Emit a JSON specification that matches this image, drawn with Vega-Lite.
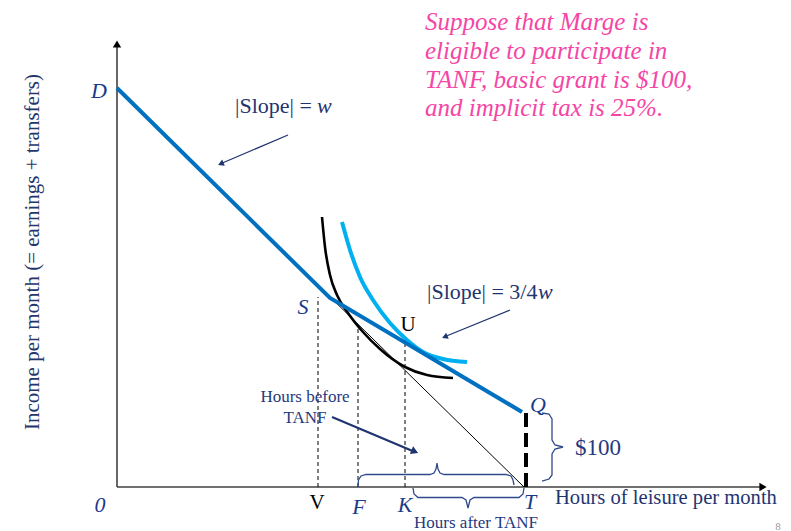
{
  "$schema": "https://vega.github.io/schema/vega-lite/v6.json",
  "width": 791,
  "height": 531,
  "padding": 0,
  "autosize": {"type": "none"},
  "background": "white",
  "config": {"view": {"stroke": null}},
  "datasets": {
    "paths": [
      {"id": "yaxis", "i": 0, "x": 0, "y": 0}, {"id": "yaxis", "i": 1, "x": 0, "y": 441},
      {"id": "xaxis", "i": 0, "x": 0, "y": 0}, {"id": "xaxis", "i": 1, "x": 645, "y": 0},
      {"id": "thin", "i": 0, "x": 0, "y": 399}, {"id": "thin", "i": 1, "x": 407, "y": 0},
      {"id": "blue", "i": 0, "x": 0, "y": 399}, {"id": "blue", "i": 1, "x": 213, "y": 189}, {"id": "blue", "i": 2, "x": 405, "y": 75},
      {"id": "ic1", "i": 0, "x": 205, "y": 270}, {"id": "ic1", "i": 1, "x": 208, "y": 240}, {"id": "ic1", "i": 2, "x": 213, "y": 212},
      {"id": "ic1", "i": 3, "x": 220, "y": 192}, {"id": "ic1", "i": 4, "x": 231, "y": 174}, {"id": "ic1", "i": 5, "x": 246, "y": 155},
      {"id": "ic1", "i": 6, "x": 263, "y": 138}, {"id": "ic1", "i": 7, "x": 288, "y": 120}, {"id": "ic1", "i": 8, "x": 310, "y": 112},
      {"id": "ic1", "i": 9, "x": 336, "y": 109},
      {"id": "ic2", "i": 0, "x": 225, "y": 265}, {"id": "ic2", "i": 1, "x": 233, "y": 237}, {"id": "ic2", "i": 2, "x": 243, "y": 210},
      {"id": "ic2", "i": 3, "x": 256, "y": 187}, {"id": "ic2", "i": 4, "x": 273, "y": 164}, {"id": "ic2", "i": 5, "x": 290, "y": 147},
      {"id": "ic2", "i": 6, "x": 306, "y": 135}, {"id": "ic2", "i": 7, "x": 326, "y": 128}, {"id": "ic2", "i": 8, "x": 350, "y": 125},
      {"id": "braceTop", "i": 0, "x": 241, "y": 0}, {"id": "braceTop", "i": 1, "x": 241.5, "y": 7}, {"id": "braceTop", "i": 2, "x": 244, "y": 11},
      {"id": "braceTop", "i": 3, "x": 249, "y": 12.5}, {"id": "braceTop", "i": 4, "x": 313, "y": 12.5}, {"id": "braceTop", "i": 5, "x": 317, "y": 14},
      {"id": "braceTop", "i": 6, "x": 319, "y": 18}, {"id": "braceTop", "i": 7, "x": 320, "y": 24}, {"id": "braceTop", "i": 8, "x": 321, "y": 18},
      {"id": "braceTop", "i": 9, "x": 323, "y": 14}, {"id": "braceTop", "i": 10, "x": 327, "y": 12.5}, {"id": "braceTop", "i": 11, "x": 389, "y": 12.5},
      {"id": "braceTop", "i": 12, "x": 394, "y": 11}, {"id": "braceTop", "i": 13, "x": 396, "y": 7}, {"id": "braceTop", "i": 14, "x": 397, "y": 2},
      {"id": "braceBot", "i": 0, "x": 296, "y": -1}, {"id": "braceBot", "i": 1, "x": 297, "y": -7}, {"id": "braceBot", "i": 2, "x": 301, "y": -10.5},
      {"id": "braceBot", "i": 3, "x": 345, "y": -10.5}, {"id": "braceBot", "i": 4, "x": 349, "y": -13}, {"id": "braceBot", "i": 5, "x": 351, "y": -21},
      {"id": "braceBot", "i": 6, "x": 353, "y": -13}, {"id": "braceBot", "i": 7, "x": 357, "y": -10.5}, {"id": "braceBot", "i": 8, "x": 402, "y": -10.5},
      {"id": "braceBot", "i": 9, "x": 406, "y": -7}, {"id": "braceBot", "i": 10, "x": 407, "y": -1},
      {"id": "braceR", "i": 0, "x": 425, "y": 74}, {"id": "braceR", "i": 1, "x": 432, "y": 73}, {"id": "braceR", "i": 2, "x": 435, "y": 68},
      {"id": "braceR", "i": 3, "x": 435, "y": 47}, {"id": "braceR", "i": 4, "x": 438, "y": 42}, {"id": "braceR", "i": 5, "x": 446, "y": 40},
      {"id": "braceR", "i": 6, "x": 438, "y": 38}, {"id": "braceR", "i": 7, "x": 435, "y": 33}, {"id": "braceR", "i": 8, "x": 435, "y": 12},
      {"id": "braceR", "i": 9, "x": 432, "y": 8}, {"id": "braceR", "i": 10, "x": 425, "y": 6}
    ],
    "segs": [
      {"group": "vdash", "x": 201, "y": 0, "x2": 201, "y2": 190},
      {"group": "vdash", "x": 241, "y": 0, "x2": 241, "y2": 160},
      {"group": "vdash", "x": 288, "y": 0, "x2": 288, "y2": 144},
      {"group": "grant", "x": 409, "y": 0, "x2": 409, "y2": 74},
      {"group": "slopeArrow", "x": 171, "y": 352, "x2": 103, "y2": 323},
      {"group": "slopeArrow", "x": 393, "y": 177, "x2": 327, "y2": 150},
      {"group": "hoursArrow", "x": 215, "y": 70, "x2": 298, "y2": 35}
    ],
    "heads": [
      {"group": "axisY", "x": 0, "y": 443},
      {"group": "axisX", "x": 646, "y": 0},
      {"group": "slope", "x": 103.8, "y": 323.2},
      {"group": "slope", "x": 327.8, "y": 150.1},
      {"group": "hours", "x": 297.8, "y": 35.4}
    ],
    "labels": [
      {"group": "italic", "text": "D", "x": -18, "y": 396},
      {"group": "italic", "text": "S", "x": 186, "y": 180},
      {"group": "italic", "text": "F", "x": 242, "y": -20},
      {"group": "italic", "text": "K", "x": 288, "y": -18},
      {"group": "italic", "text": "T", "x": 413, "y": -15},
      {"group": "italic", "text": "Q", "x": 421, "y": 82},
      {"group": "italic", "text": "0", "x": -17, "y": -18},
      {"group": "black", "text": "V", "x": 200, "y": -16},
      {"group": "black", "text": "U", "x": 291, "y": 162},
      {"group": "slopeText", "text": "|Slope| =", "x": 118, "y": 381},
      {"group": "slopeText", "text": "|Slope| = 3/4", "x": 310, "y": 195},
      {"group": "slopeW", "text": "w", "x": 200, "y": 381},
      {"group": "slopeW", "text": "w", "x": 421, "y": 195},
      {"group": "grantText", "text": "$100", "x": 481, "y": 39},
      {"group": "small", "text": "Hours before", "x": 188, "y": 90},
      {"group": "small", "text": "TANF", "x": 188, "y": 69},
      {"group": "small", "text": "Hours after TANF", "x": 359, "y": -35.5},
      {"group": "xtitle", "text": "Hours of leisure per month", "x": 438, "y": -11},
      {"group": "ytitle", "text": "Income per month (= earnings + transfers)", "x": -84, "y": 235},
      {"group": "pink", "text": "Suppose that Marge is", "x": 308, "y": 465},
      {"group": "pink", "text": "eligible to participate in", "x": 308, "y": 436},
      {"group": "pink", "text": "TANF, basic grant is $100,", "x": 308, "y": 407},
      {"group": "pink", "text": "and implicit tax is 25%.", "x": 308, "y": 379},
      {"group": "page", "text": "8", "x": 661, "y": -40}
    ]
  },
  "encoding": {
    "x": {"field": "x", "type": "quantitative", "scale": {"domain": [-117, 674], "nice": false, "zero": false}, "axis": null},
    "y": {"field": "y", "type": "quantitative", "scale": {"domain": [-44, 487], "nice": false, "zero": false}, "axis": null}
  },
  "layer": [
    {"data": {"name": "paths"}, "transform": [{"filter": "datum.id == 'yaxis' || datum.id == 'xaxis'"}],
     "mark": {"type": "line", "color": "#404040", "strokeWidth": 1.6},
     "encoding": {"detail": {"field": "id"}, "order": {"field": "i", "type": "quantitative"}}},
    {"data": {"name": "paths"}, "transform": [{"filter": "datum.id == 'thin'"}],
     "mark": {"type": "line", "color": "#000000", "strokeWidth": 1},
     "encoding": {"order": {"field": "i", "type": "quantitative"}}},
    {"data": {"name": "segs"}, "transform": [{"filter": "datum.group == 'vdash'"}],
     "mark": {"type": "rule", "color": "#000000", "strokeWidth": 1, "strokeDash": [4, 3]},
     "encoding": {"x2": {"field": "x2"}, "y2": {"field": "y2"}}},
    {"data": {"name": "paths"}, "transform": [{"filter": "datum.id == 'ic1'"}],
     "mark": {"type": "line", "color": "#000000", "strokeWidth": 2.6, "interpolate": "monotone"},
     "encoding": {"order": {"field": "i", "type": "quantitative"}}},
    {"data": {"name": "paths"}, "transform": [{"filter": "datum.id == 'ic2'"}],
     "mark": {"type": "line", "color": "#00b0f0", "strokeWidth": 4, "interpolate": "monotone"},
     "encoding": {"order": {"field": "i", "type": "quantitative"}}},
    {"data": {"name": "paths"}, "transform": [{"filter": "datum.id == 'blue'"}],
     "mark": {"type": "line", "color": "#0070c0", "strokeWidth": 4, "strokeJoin": "miter"},
     "encoding": {"order": {"field": "i", "type": "quantitative"}}},
    {"data": {"name": "segs"}, "transform": [{"filter": "datum.group == 'grant'"}],
     "mark": {"type": "rule", "color": "#000000", "strokeWidth": 4, "strokeDash": [14, 6]},
     "encoding": {"x2": {"field": "x2"}, "y2": {"field": "y2"}}},
    {"data": {"name": "paths"}, "transform": [{"filter": "datum.id == 'braceTop' || datum.id == 'braceBot' || datum.id == 'braceR'"}],
     "mark": {"type": "line", "color": "#2f4a8a", "strokeWidth": 1.3},
     "encoding": {"detail": {"field": "id"}, "order": {"field": "i", "type": "quantitative"}}},
    {"data": {"name": "segs"}, "transform": [{"filter": "datum.group == 'slopeArrow'"}],
     "mark": {"type": "rule", "color": "#1f3570", "strokeWidth": 1.2},
     "encoding": {"x2": {"field": "x2"}, "y2": {"field": "y2"}}},
    {"data": {"name": "segs"}, "transform": [{"filter": "datum.group == 'hoursArrow'"}],
     "mark": {"type": "rule", "color": "#1f3570", "strokeWidth": 2.2},
     "encoding": {"x2": {"field": "x2"}, "y2": {"field": "y2"}}},
    {"data": {"name": "heads"}, "transform": [{"filter": "datum.group == 'axisY'"}],
     "mark": {"type": "point", "shape": "triangle-up", "filled": true, "color": "#000000", "size": 70, "opacity": 1}},
    {"data": {"name": "heads"}, "transform": [{"filter": "datum.group == 'axisX'"}],
     "mark": {"type": "point", "shape": "triangle-right", "filled": true, "color": "#000000", "size": 70, "opacity": 1}},
    {"data": {"name": "heads"}, "transform": [{"filter": "datum.group == 'slope'"}],
     "mark": {"type": "point", "shape": "triangle-up", "filled": true, "color": "#1f3570", "size": 45, "opacity": 1, "angle": 247}},
    {"data": {"name": "heads"}, "transform": [{"filter": "datum.group == 'hours'"}],
     "mark": {"type": "point", "shape": "triangle-up", "filled": true, "color": "#1f3570", "size": 70, "opacity": 1, "angle": 113}},
    {"data": {"name": "labels"}, "transform": [{"filter": "datum.group == 'italic'"}],
     "mark": {"type": "text", "font": "Liberation Serif", "fontStyle": "italic", "fontSize": 22, "color": "#1a3a8c", "align": "center", "baseline": "middle"},
     "encoding": {"text": {"field": "text"}}},
    {"data": {"name": "labels"}, "transform": [{"filter": "datum.group == 'black'"}],
     "mark": {"type": "text", "font": "Liberation Serif", "fontSize": 21, "color": "#000000", "align": "center", "baseline": "middle"},
     "encoding": {"text": {"field": "text"}}},
    {"data": {"name": "labels"}, "transform": [{"filter": "datum.group == 'slopeText'"}],
     "mark": {"type": "text", "font": "Liberation Serif", "fontSize": 22, "color": "#1f3570", "align": "left", "baseline": "middle"},
     "encoding": {"text": {"field": "text"}}},
    {"data": {"name": "labels"}, "transform": [{"filter": "datum.group == 'slopeW'"}],
     "mark": {"type": "text", "font": "Liberation Serif", "fontStyle": "italic", "fontSize": 22, "color": "#1f3570", "align": "left", "baseline": "middle"},
     "encoding": {"text": {"field": "text"}}},
    {"data": {"name": "labels"}, "transform": [{"filter": "datum.group == 'grantText'"}],
     "mark": {"type": "text", "font": "Liberation Serif", "fontSize": 23, "color": "#1f3a80", "align": "center", "baseline": "middle"},
     "encoding": {"text": {"field": "text"}}},
    {"data": {"name": "labels"}, "transform": [{"filter": "datum.group == 'small'"}],
     "mark": {"type": "text", "font": "Liberation Serif", "fontSize": 17, "color": "#1f3a80", "align": "center", "baseline": "middle"},
     "encoding": {"text": {"field": "text"}}},
    {"data": {"name": "labels"}, "transform": [{"filter": "datum.group == 'xtitle'"}],
     "mark": {"type": "text", "font": "Liberation Serif", "fontSize": 20.6, "color": "#1f3570", "align": "left", "baseline": "middle"},
     "encoding": {"text": {"field": "text"}}},
    {"data": {"name": "labels"}, "transform": [{"filter": "datum.group == 'ytitle'"}],
     "mark": {"type": "text", "font": "Liberation Serif", "fontSize": 21, "color": "#24366b", "align": "center", "baseline": "middle", "angle": 270},
     "encoding": {"text": {"field": "text"}}},
    {"data": {"name": "labels"}, "transform": [{"filter": "datum.group == 'pink'"}],
     "mark": {"type": "text", "font": "Liberation Serif", "fontStyle": "italic", "fontSize": 25, "color": "#f545a5", "align": "left", "baseline": "middle"},
     "encoding": {"text": {"field": "text"}}},
    {"data": {"name": "labels"}, "transform": [{"filter": "datum.group == 'page'"}],
     "mark": {"type": "text", "font": "Liberation Serif", "fontSize": 11, "color": "#9a9a9a", "align": "center", "baseline": "middle"},
     "encoding": {"text": {"field": "text"}}}
  ]
}
